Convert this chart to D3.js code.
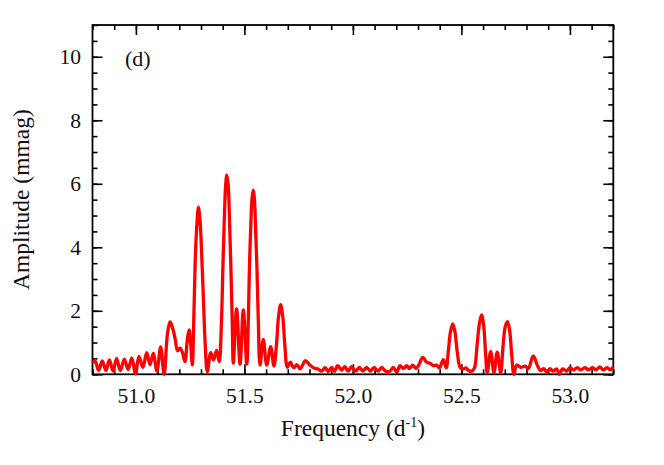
<!DOCTYPE html>
<html>
<head>
<meta charset="utf-8">
<script src="https://cdn.jsdelivr.net/npm/d3@7"></script>
<style>
body { margin: 0; background: #fff; }
text { font-family: "Liberation Serif", "Times New Roman", serif; fill: #111; }
</style>
</head>
<body>
<svg id="chart" width="664" height="465"></svg>
<script>
// amplitude spectrum
var freq = [
 50.800,50.812,50.828,50.845,50.862,50.878,50.895,50.911,50.928,50.947,
 50.964,50.981,50.998,51.014,51.032,51.050,51.065,51.080,51.097,51.114,
 51.130,51.145,51.157,51.168,51.180,51.192,51.203,51.214,51.226,51.237,
 51.245,51.252,51.260,51.267,51.273,51.280,51.288,51.296,51.303,51.311,
 51.319,51.329,51.345,51.358,51.372,51.384,51.394,51.401,51.408,51.414,
 51.419,51.425,51.432,51.438,51.444,51.449,51.464,51.480,51.495,51.511,
 51.518,51.523,51.530,51.536,51.541,51.546,51.551,51.558,51.564,51.572,
 51.587,51.603,51.621,51.636,51.648,51.657,51.667,51.677,51.686,51.698,
 51.712,51.727,51.742,51.757,51.781,51.800,51.822,51.838,51.856,51.872,
 51.887,51.902,51.914,51.930,51.948,51.963,51.978,51.994,52.012,52.030,
 52.046,52.063,52.080,52.098,52.115,52.133,52.150,52.171,52.186,52.202,
 52.217,52.232,52.248,52.260,52.275,52.291,52.302,52.322,52.340,52.355,
 52.371,52.386,52.398,52.417,52.430,52.440,52.450,52.460,52.470,52.481,
 52.494,52.508,52.520,52.533,52.547,52.560,52.572,52.583,52.593,52.603,
 52.612,52.619,52.635,52.650,52.665,52.681,52.692,52.702,52.712,52.722,
 52.732,52.742,52.755,52.773,52.793,52.808,52.831,52.850,52.865,52.880,
 52.893,52.908,52.923,52.939,52.951,52.966,52.985,53.000,53.016,53.034,
 53.050,53.070,53.085,53.105,53.120,53.138,53.154,53.172,53.185,53.200
];
var amp = [
 0.36,0.42,0.12,0.42,0.12,0.45,0.10,0.50,0.12,0.48,
 0.15,0.52,0.02,0.56,0.22,0.68,0.30,0.66,0.10,0.86,
 0.00,1.25,1.65,1.48,1.15,0.74,0.82,0.70,0.40,1.10,
 1.40,1.00,0.30,1.80,3.50,4.60,5.26,4.80,3.80,2.40,
 1.00,0.08,0.68,0.45,0.75,0.40,1.60,3.40,5.00,6.00,
 6.27,6.00,4.70,3.30,1.60,0.35,2.06,0.32,2.03,0.32,
 1.70,3.30,4.80,5.60,5.80,5.55,4.70,3.30,1.70,0.29,
 1.10,0.29,0.87,0.26,0.95,1.80,2.19,1.80,0.95,0.22,
 0.38,0.20,0.30,0.17,0.43,0.30,0.19,0.17,0.10,0.21,
 0.09,0.22,0.09,0.27,0.13,0.24,0.10,0.24,0.10,0.22,
 0.10,0.22,0.10,0.22,0.10,0.22,0.10,0.10,0.22,0.07,
 0.27,0.18,0.27,0.18,0.29,0.19,0.27,0.53,0.38,0.35,
 0.27,0.29,0.20,0.46,0.20,0.75,1.35,1.59,1.35,0.70,
 0.22,0.16,0.20,0.12,0.09,0.20,0.90,1.60,1.87,1.50,
 0.60,0.05,0.71,0.05,0.70,0.05,0.90,1.50,1.66,1.40,
 0.60,0.00,0.29,0.22,0.26,0.18,0.58,0.28,0.12,0.18,
 0.07,0.18,0.10,0.17,0.00,0.17,0.10,0.21,0.14,0.21,
 0.14,0.21,0.14,0.21,0.14,0.23,0.14,0.21,0.14,0.24
];
var xTicks = [51.0, 51.5, 52.0, 52.5, 53.0];
var yTicks = [0, 2, 4, 6, 8, 10];
var xMinor = d3.range(50.8, 53.21, 0.1);
var yMinor = d3.range(0, 11.01, 0.5);

var svg = d3.select("#chart");
var m = {left: 92.5, right: 613.3, top: 25, bottom: 374.3};

var x = d3.scaleLinear().domain([50.8, 53.2]).range([m.left, m.right]);
var y = d3.scaleLinear().domain([0, 11]).range([m.bottom, m.top]);

function strip(g) { g.select(".domain").remove(); g.selectAll("line").attr("stroke", "#000").attr("stroke-width", 1.6); }

// minor ticks, all four sides
svg.append("g").attr("transform", "translate(0," + m.bottom + ")")
  .call(d3.axisBottom(x).tickValues(xMinor).tickSize(-5).tickFormat("")).call(strip);
svg.append("g").attr("transform", "translate(0," + m.top + ")")
  .call(d3.axisTop(x).tickValues(xMinor).tickSize(-5).tickFormat("")).call(strip);
svg.append("g").attr("transform", "translate(" + m.left + ",0)")
  .call(d3.axisLeft(y).tickValues(yMinor).tickSize(-5).tickFormat("")).call(strip);
svg.append("g").attr("transform", "translate(" + m.right + ",0)")
  .call(d3.axisRight(y).tickValues(yMinor).tickSize(-5).tickFormat("")).call(strip);

// major ticks
svg.append("g").attr("transform", "translate(0," + m.bottom + ")")
  .call(d3.axisBottom(x).tickValues(xTicks).tickSize(-10).tickPadding(13.5).tickFormat(d3.format(".1f"))).call(strip);
svg.append("g").attr("transform", "translate(0," + m.top + ")")
  .call(d3.axisTop(x).tickValues(xTicks).tickSize(-10).tickFormat("")).call(strip);
svg.append("g").attr("transform", "translate(" + m.left + ",0)")
  .call(d3.axisLeft(y).tickValues(yTicks).tickSize(-10).tickPadding(11.5).tickFormat(d3.format("d"))).call(strip);
svg.append("g").attr("transform", "translate(" + m.right + ",0)")
  .call(d3.axisRight(y).tickValues(yTicks).tickSize(-10).tickFormat("")).call(strip);
svg.selectAll("g text").attr("font-size", 21.5).attr("font-family", "Liberation Serif").attr("fill", "#111");

svg.append("rect").attr("x", m.left).attr("y", m.top)
  .attr("width", m.right - m.left).attr("height", m.bottom - m.top)
  .attr("fill", "none").attr("stroke", "#000").attr("stroke-width", 1.8);

var pts = freq.map(function(f, i) { return [f, amp[i]]; });
var line = d3.line().x(function(d) { return x(d[0]); }).y(function(d) { return y(d[1]); })
  .curve(d3.curveCatmullRom.alpha(0.5));
svg.append("path").datum(pts).attr("d", line)
  .attr("fill", "none").attr("stroke", "#ff0000").attr("stroke-width", 3.3).attr("stroke-linejoin", "round");

svg.append("text").attr("x", 125).attr("y", 66).attr("font-size", 22).text("(d)");

var xt = svg.append("text").attr("x", (m.left + m.right) / 2).attr("y", 436)
  .attr("text-anchor", "middle").attr("font-size", 23.5);
xt.append("tspan").text("Frequency (d");
xt.append("tspan").attr("font-size", 14).attr("dy", -9).text("-1");
xt.append("tspan").attr("dy", 9).text(")");

svg.append("text").attr("transform", "translate(29," + (m.top + m.bottom) / 2 + ") rotate(-90)")
  .attr("text-anchor", "middle").attr("font-size", 23.5).text("Amplitude (mmag)");
</script>
</body>
</html>
